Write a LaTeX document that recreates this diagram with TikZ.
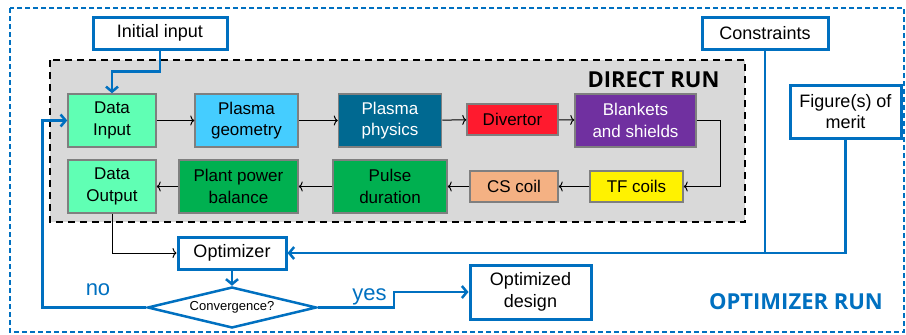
\documentclass[tikz,border=0pt]{standalone}
\usepackage{fontspec}
\setmainfont{Liberation Sans}
\newfontfamily\runfont{Open Sans}
\usetikzlibrary{arrows.meta,shapes.geometric}
\definecolor{optblue}{HTML}{0070C0}
\definecolor{boxgray}{HTML}{7F7F7F}
\definecolor{runbg}{HTML}{D9D9D9}
\definecolor{datamint}{HTML}{60FFB4}
\definecolor{geomblue}{HTML}{45CDFF}
\definecolor{physblue}{HTML}{006991}
\definecolor{divred}{HTML}{FF1A2E}
\definecolor{blankpurple}{HTML}{7030A0}
\definecolor{cspeach}{HTML}{F4B183}
\definecolor{plantgreen}{HTML}{00B050}

\begin{document}
\begin{tikzpicture}[x=1pt,y=-1pt,
      block/.style={draw=boxgray, line width=1.5pt, minimum height=53pt, align=center, inner sep=1pt, font=\fontsize{17}{21.5}\selectfont},
      flatblock/.style={block, minimum height=31pt},
      bluebox/.style={draw=optblue, line width=3pt, fill=white, align=center, inner sep=1pt, font=\fontsize{18}{21.5}\selectfont},
      blackline/.style={draw, line width=1pt, -{To[length=4pt,width=10pt]}},
      blueline/.style={draw=optblue, line width=2.5pt, -{Straight Barb[length=5pt,width=12pt]}},
      bluetext/.style={text=optblue, font=\fontsize{22}{22}\selectfont},
      runtext/.style={font=\runfont\bfseries\fontsize{22}{22}\selectfont}]
    \useasboundingbox (0,0) rectangle (906,335);
    \draw[optblue, line width=1.5pt, dash pattern=on 5pt off 3pt] (10,8) rectangle (904,332);
    \draw[fill=runbg, line width=2pt, dash pattern=on 7pt off 5pt] (50,60) rectangle (745,222);
    \node[runtext, anchor=base east] (direct) at (723,87) {DIRECT RUN};
    \node[runtext, text=optblue, anchor=base] (optrun) at (796,309) {OPTIMIZER RUN};

    \node[block, fill=datamint, minimum width=88pt] (datain) at (112,120.5) {Data\\Input};
    \node[block, fill=geomblue, minimum width=103pt] (geom) at (246.5,120.5) {Plasma\\geometry};
    \node[block, fill=physblue, text=white, minimum width=103pt] (phys) at (390,120.5) {Plasma\\physics};
    \node[flatblock, fill=divred, minimum width=91pt] (div) at (512.5,119.5) {Divertor};
    \node[block, fill=blankpurple, text=white, minimum width=121pt] (blank) at (635.5,120.5) {Blankets\\and shields};
    \node[flatblock, fill=yellow, minimum width=93pt] (tf) at (636.5,186.5) {TF coils};
    \node[flatblock, fill=cspeach, minimum width=88pt] (cs) at (514,186.5) {CS coil};
    \node[block, fill=plantgreen, minimum width=114pt] (pulse) at (390,186.5) {Pulse\\duration};
    \node[block, fill=plantgreen, minimum width=119pt] (plant) at (238.5,186.5) {Plant power\\balance};
    \node[block, fill=datamint, minimum width=88pt] (dataout) at (112,186.5) {Data\\Output};

    \node[bluebox, minimum width=134pt, minimum height=32pt] (init) at (160,33) {Initial input};
    \node[bluebox, minimum width=126pt, minimum height=32pt] (cons) at (765,33) {Constraints};
    \node[bluebox, minimum width=111pt, minimum height=53pt] (fom) at (845.5,111.5) {Figure(s) of\\merit};
    \node[bluebox, minimum width=108pt, minimum height=32pt] (opt) at (232,253) {Optimizer};
    \node[draw=optblue, line width=2.5pt, fill=white, diamond, aspect=4, inner sep=0pt,
          minimum width=169pt, minimum height=41pt, font=\fontsize{13}{13}\selectfont] (conv) at (232,307.5) {Convergence?};
    \node[bluebox, minimum width=121pt, minimum height=54pt] (optdes) at (530.5,292) {Optimized\\design};

    \draw[blackline] (datain) -- (geom);
    \draw[blackline] (geom) -- (phys);
    \draw[blackline] (phys) -- (div);
    \draw[blackline] (div) -- (blank);
    \draw[blackline] (blank.east) -- ++(24,0) |- (tf.east);
    \draw[blackline] (tf) -- (cs);
    \draw[blackline] (cs) -- (pulse);
    \draw[blackline] (pulse) -- (plant);
    \draw[blackline] (plant) -- (dataout);
    \draw[blackline] (dataout.south) |- (opt.west);

    \draw[blueline] (init.south) -- ++(0,21) -| (datain.north);
    \draw[blueline] (cons.south) |- (opt.east);
    \draw[blueline, -] (fom.south) |- (cons.south |- opt.east);
    \draw[blueline] (opt.south) -- (conv.north);
    \draw[blueline] (conv.west) -- ++(-104,0) |- (datain.west);
    \draw[blueline] (conv.east) -- ++(76,0) |- (optdes.west);
    \node[bluetext, anchor=base] (no) at (98,295) {no};
    \node[bluetext, anchor=base] (yes) at (369.5,300) {yes};
\end{tikzpicture}
\end{document}
